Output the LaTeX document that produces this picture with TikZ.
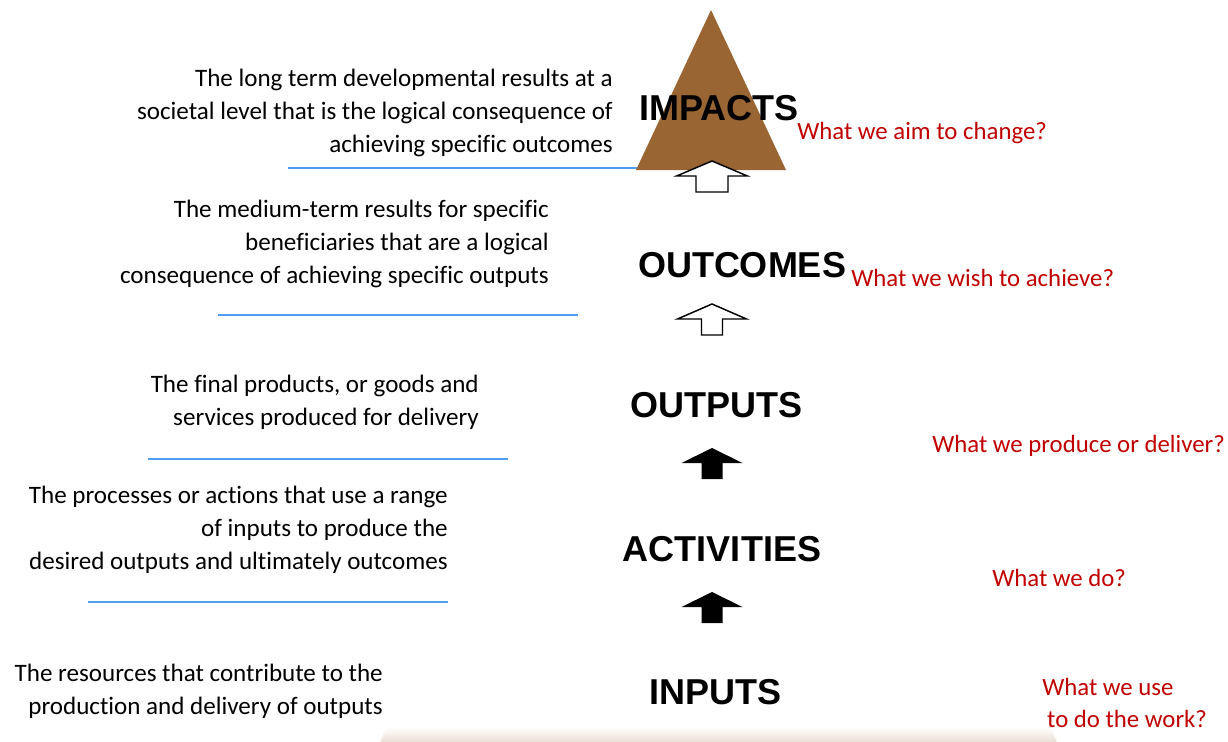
\documentclass[tikz,border=0pt]{standalone}
\usepackage{fontspec}
\setmainfont{Carlito}[Ligatures=NoCommon]
\newfontfamily\headfont{Liberation Sans}
\usetikzlibrary{positioning}

\definecolor{pyramidbrown}{RGB}{153,102,51}
\definecolor{ruleblue}{RGB}{80,158,242}
\definecolor{askred}{RGB}{192,0,0}
\definecolor{shadowtan}{RGB}{236,224,212}

\begin{document}
\begin{tikzpicture}[
        x=0.75pt, y=-0.75pt,
        level/.style={font=\headfont\fontsize{27}{30}\selectfont\bfseries, inner sep=0pt},
        explain/.style={font=\fontsize{18.8}{24.8}\selectfont, align=right, anchor=east, inner sep=0pt},
        question/.style={font=\fontsize{18.6}{24.6}\selectfont, text=askred, align=left, anchor=west, inner sep=0pt},
        divider/.style={draw=ruleblue, line width=1.5pt},
        hollow/.style={draw=black, fill=white, line width=1.1pt},
        solid/.style={fill=black},
        pics/blockup/.style 2 args={code={
            \path[pic actions] (-#1,15) -- (0,0) -- (#1,15) -- (#2,15) -- (#2,31) -- (-#2,31) -- (-#2,15) -- cycle;
        }}
    ]

    \useasboundingbox (0,0) rectangle (1228,742);

    % soft base under the chain
    \shade[top color=white, bottom color=shadowtan] (380,742) -- (387,727) -- (1050,727) -- (1057,742) -- cycle;

    % separators
    \draw[divider] (288,168) -- (645,168);
    \draw[divider] (218,315) -- (578,315);
    \draw[divider] (148,459) -- (508,459);
    \draw[divider] (88,602) -- (448,602);

    % pyramid tip
    \fill[pyramidbrown] (711,10) -- (786,170) -- (636,170) -- cycle;

    % Result levels
    \node[level] (impacts) at (719,108) {IMPACTS};
    \node[level] (outcomes) at (742,265) {OUTCOMES};
    \node[level] (outputs) at (716,405) {OUTPUTS};
    \node[level] (activities) at (722,549) {ACTIVITIES};
    \node[level] (inputs) at (715,692) {INPUTS};

    % Up arrows between levels
    \pic[hollow] at (712,161) {blockup={35.5}{16}};
    \pic[hollow] at (712,304) {blockup={34.5}{10.5}};
    \pic[solid] at (712,448) {blockup={30.5}{10.5}};
    \pic[solid] at (712,592) {blockup={30.5}{10.5}};

    % Definitions on the left
    \node[explain] (impacts_txt) at (613,113) {The long term developmental results at a\\societal level that is the logical consequence of\\achieving specific outcomes};
    \node[explain] (outcomes_txt) at (549,244) {The medium-term results for specific\\beneficiaries that are a logical\\consequence of achieving specific outputs};
    \node[explain] (outputs_txt) at (479,402) {The final products, or goods and\\services produced for delivery};
    \node[explain] (activities_txt) at (448,530) {The processes or actions that use a range\\of inputs to produce the\\desired outputs and ultimately outcomes};
    \node[explain] (inputs_txt) at (383,691) {The resources that contribute to the\\production and delivery of outputs};

    % Guiding questions on the right
    \node[question] (impacts_q) at (797,133) {What we aim to change?};
    \node[question] (outcomes_q) at (851,278) {What we wish to achieve?};
    \node[question] (outputs_q) at (932,446) {What we produce or deliver?};
    \node[question] (activities_q) at (992,578) {What we do?};
    \node[question] (inputs_q) at (1042,703) {What we use\\\hspace{0.2em}to do the work?};

\end{tikzpicture}
\end{document}
